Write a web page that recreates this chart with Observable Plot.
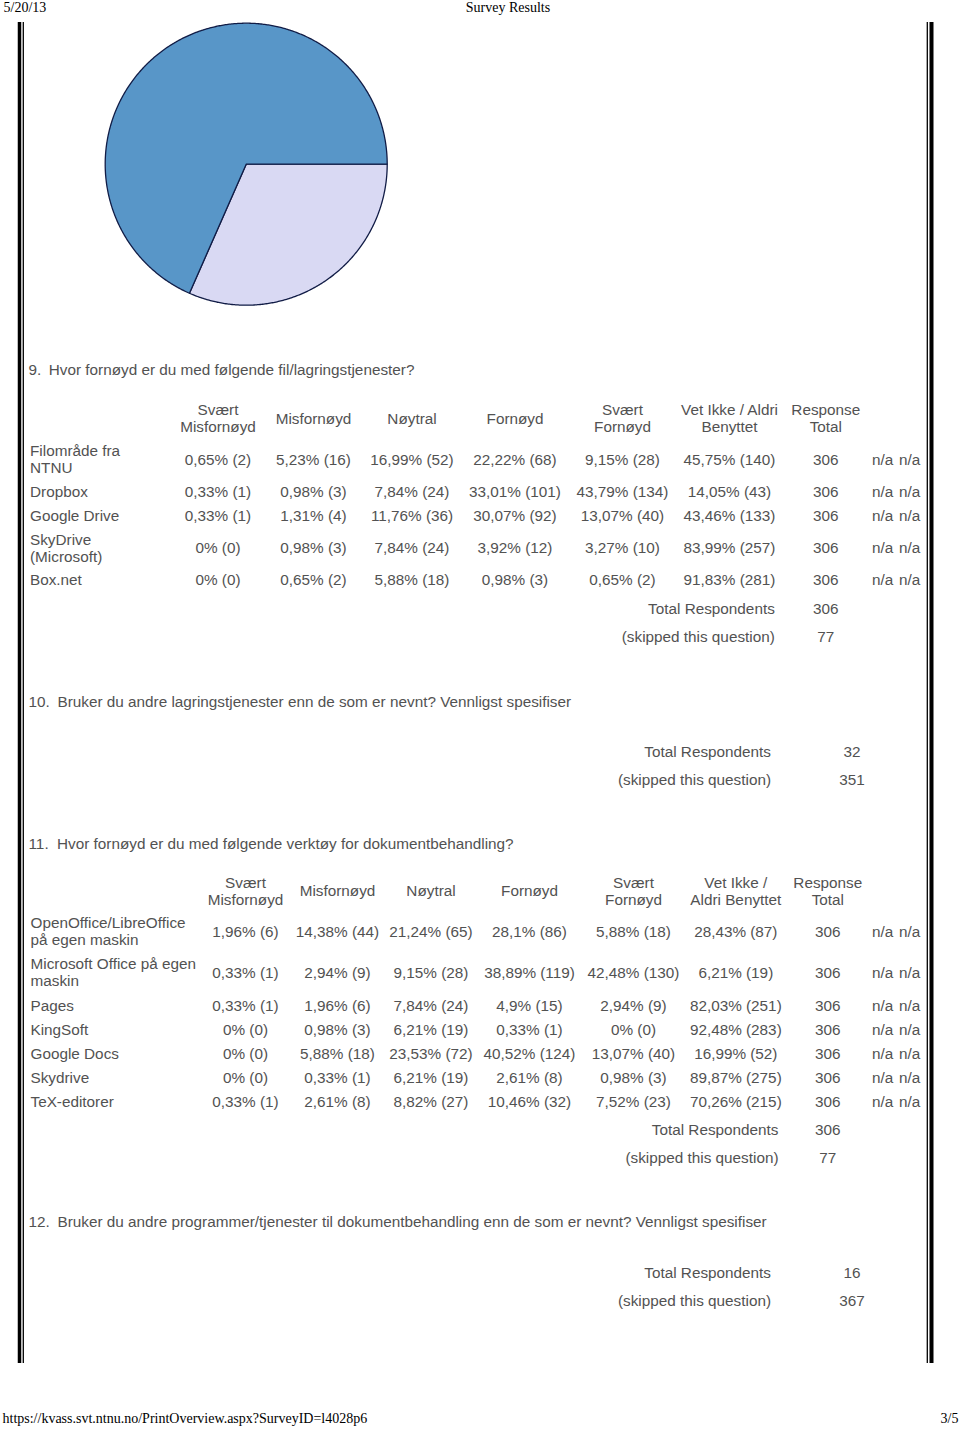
<!DOCTYPE html>
<html><head><meta charset="utf-8">
<script src="https://cdn.jsdelivr.net/npm/d3@7"></script>
<script src="https://cdn.jsdelivr.net/npm/@observablehq/plot@0.6"></script>
<style>html,body{margin:0;padding:0;background:#fff;}</style>
</head><body><div id="chart"></div>
<script>
// ---------------- DATA ----------------
const pageDate = "5/20/13";
const pageTitle = "Survey Results";
const pageUrl = "https://kvass.svt.ntnu.no/PrintOverview.aspx?SurveyID=l4028p6";
const pageNumber = "3/5";

// pie from previous question (light slice, dark slice)
const pieValues = [121, 262];

const q9Number = "9.";
const q9Question = "Hvor fornøyd er du med følgende fil/lagringstjenester?";
const q9Columns = ["Svært\nMisfornøyd", "Misfornøyd", "Nøytral", "Fornøyd", "Svært\nFornøyd", "Vet Ikke / Aldri\nBenyttet", "Response\nTotal"];
const q9Rows = ["Filområde fra\nNTNU", "Dropbox", "Google Drive", "SkyDrive\n(Microsoft)", "Box.net"];
const q9Pct = [
  [0.65, 5.23, 16.99, 22.22, 9.15, 45.75],
  [0.33, 0.98, 7.84, 33.01, 43.79, 14.05],
  [0.33, 1.31, 11.76, 30.07, 13.07, 43.46],
  [0, 0.98, 7.84, 3.92, 3.27, 83.99],
  [0, 0.65, 5.88, 0.98, 0.65, 91.83]
];
const q9Count = [
  [2, 16, 52, 68, 28, 140],
  [1, 3, 24, 101, 134, 43],
  [1, 4, 36, 92, 40, 133],
  [0, 3, 24, 12, 10, 257],
  [0, 2, 18, 3, 2, 281]
];
const q9Total = [306, 306, 306, 306, 306];
const q9Summary = [306, 77];

const q10Number = "10.";
const q10Question = "Bruker du andre lagringstjenester enn de som er nevnt? Vennligst spesifiser";
const q10Summary = [32, 351];

const q11Number = "11.";
const q11Question = "Hvor fornøyd er du med følgende verktøy for dokumentbehandling?";
const q11Columns = ["Svært\nMisfornøyd", "Misfornøyd", "Nøytral", "Fornøyd", "Svært\nFornøyd", "Vet Ikke /\nAldri Benyttet", "Response\nTotal"];
const q11Rows = ["OpenOffice/LibreOffice\npå egen maskin", "Microsoft Office på egen\nmaskin", "Pages", "KingSoft", "Google Docs", "Skydrive", "TeX-editorer"];
const q11Pct = [
  [1.96, 14.38, 21.24, 28.1, 5.88, 28.43],
  [0.33, 2.94, 9.15, 38.89, 42.48, 6.21],
  [0.33, 1.96, 7.84, 4.9, 2.94, 82.03],
  [0, 0.98, 6.21, 0.33, 0, 92.48],
  [0, 5.88, 23.53, 40.52, 13.07, 16.99],
  [0, 0.33, 6.21, 2.61, 0.98, 89.87],
  [0.33, 2.61, 8.82, 10.46, 7.52, 70.26]
];
const q11Count = [
  [6, 44, 65, 86, 18, 87],
  [1, 9, 28, 119, 130, 19],
  [1, 6, 24, 15, 9, 251],
  [0, 3, 19, 1, 0, 283],
  [0, 18, 72, 124, 40, 52],
  [0, 1, 19, 8, 3, 275],
  [1, 8, 27, 32, 23, 215]
];
const q11Total = [306, 306, 306, 306, 306, 306, 306];
const q11Summary = [306, 77];

const q12Number = "12.";
const q12Question = "Bruker du andre programmer/tjenester til dokumentbehandling enn de som er nevnt? Vennligst spesifiser";
const q12Summary = [16, 367];

const summaryLabels = ["Total Respondents", "(skipped this question)"];
const naText = "n/a";

// ---------------- LAYOUT / STYLE ----------------
const W = 960, H = 1430;
const SANS = "Liberation Sans, Arial, Helvetica, sans-serif";
const SERIF = "Liberation Serif, Times New Roman, serif";
const FS = 15.3, LH = 1.1, INK = "#525252";
const pieColors = ["#d9d9f3", "#5896c8"];
const pieStroke = "#111c46";
const pie = {cx: 245.7, cy: 163.7, r: 141};

const lay9 = {num: [28, 370], q: 48.3, labelX: 29.5, colX: [217.5, 313, 411.5, 514.5, 622, 729, 825.3], naX: [882, 909],
  headY: 418, rowY: [459, 491.5, 515.5, 547.5, 579.5], sumY: [608, 636.5], sumLabelX: 774.3, sumValX: 825.3};
const lay10 = {num: [28, 702], q: 57, sumY: [751, 779.5], sumLabelX: 770.5, sumValX: 851.5};
const lay11 = {num: [28, 844], q: 56.5, labelX: 30, colX: [245, 337, 430.5, 529, 633, 735.3, 827.3], naX: [882, 909],
  headY: 890.5, rowY: [931, 972, 1005, 1029, 1053, 1077, 1101], sumY: [1129, 1157], sumLabelX: 778, sumValX: 827.3};
const lay12 = {num: [28, 1222], q: 57, sumY: [1272, 1300], sumLabelX: 770.5, sumValX: 851.5};

// ---------------- BUILD ----------------
const fmt = (p, c) => String(p).replace(".", ",") + "% (" + c + ")";

function tableCells(lay, columns, rows, pct, count, total) {
  const heads = columns.map((t, j) => ({x: lay.colX[j], y: lay.headY, t}));
  const labels = rows.map((t, i) => ({x: lay.labelX, y: lay.rowY[i], t}));
  const cells = [];
  pct.forEach((row, i) => {
    row.forEach((p, j) => cells.push({x: lay.colX[j], y: lay.rowY[i], t: fmt(p, count[i][j])}));
    cells.push({x: lay.colX[6], y: lay.rowY[i], t: String(total[i])});
    lay.naX.forEach(x => cells.push({x, y: lay.rowY[i], t: naText}));
  });
  return {heads, labels, cells};
}

function summary(lay, vals) {
  return {
    labels: summaryLabels.map((t, i) => ({x: lay.sumLabelX, y: lay.sumY[i], t})),
    values: vals.map((v, i) => ({x: lay.sumValX, y: lay.sumY[i], t: String(v)}))
  };
}

function titleMarks(lay, num, q) {
  return [
    Plot.text([{x: lay.num[0], y: lay.num[1], t: num}], {x: "x", y: "y", text: "t", textAnchor: "start", fontSize: FS, fontFamily: SANS, fill: INK}),
    Plot.text([{x: lay.q, y: lay.num[1], t: q}], {x: "x", y: "y", text: "t", textAnchor: "start", fontSize: FS, fontFamily: SANS, fill: INK})
  ];
}

const txt = (data, anchor) => Plot.text(data, {x: "x", y: "y", text: "t", textAnchor: anchor, fontSize: FS, fontFamily: SANS, fill: INK, lineHeight: LH});

// pie slices from d3.pie
const arcs = d3.pie().sort(null).startAngle(Math.PI / 2).endAngle(Math.PI / 2 + 2 * Math.PI)(pieValues);
const slicePts = arcs.map((a, k) => {
  const pts = [{x: pie.cx, y: pie.cy, k}];
  const n = Math.max(2, Math.ceil((a.endAngle - a.startAngle) / (Math.PI / 360)));
  for (let s = 0; s <= n; s++) {
    const ang = a.startAngle + (a.endAngle - a.startAngle) * s / n;
    pts.push({x: pie.cx + pie.r * Math.sin(ang), y: pie.cy - pie.r * Math.cos(ang), k});
  }
  pts.push({x: pie.cx, y: pie.cy, k});
  return pts;
});

const t9 = tableCells(lay9, q9Columns, q9Rows, q9Pct, q9Count, q9Total);
const t11 = tableCells(lay11, q11Columns, q11Rows, q11Pct, q11Count, q11Total);
const s9 = summary(lay9, q9Summary), s10 = summary(lay10, q10Summary), s11 = summary(lay11, q11Summary), s12 = summary(lay12, q12Summary);

const chart = Plot.plot({
  width: W, height: H, margin: 0,
  style: {background: "white", overflow: "visible"},
  x: {domain: [0, W], range: [0, W], axis: null},
  y: {domain: [0, H], range: [0, H], axis: null},
  marks: [
    // page header/footer
    Plot.text([{x: 3, y: 7, t: pageDate}], {x: "x", y: "y", text: "t", textAnchor: "start", fontSize: 14, fontFamily: SERIF, fill: "#000"}),
    Plot.text([{x: 507.5, y: 7, t: pageTitle}], {x: "x", y: "y", text: "t", textAnchor: "middle", fontSize: 14, fontFamily: SERIF, fill: "#000"}),
    Plot.text([{x: 2, y: 1418, t: pageUrl}], {x: "x", y: "y", text: "t", textAnchor: "start", fontSize: 14, fontFamily: SERIF, fill: "#000"}),
    Plot.text([{x: 958, y: 1418, t: pageNumber}], {x: "x", y: "y", text: "t", textAnchor: "end", fontSize: 14, fontFamily: SERIF, fill: "#000"}),
    // frame
    Plot.ruleX([19], {y1: 22, y2: 1363, stroke: "#000", strokeWidth: 3.5}),
    Plot.ruleX([22.8], {y1: 22, y2: 1363, stroke: "#000", strokeWidth: 1.3}),
    Plot.ruleX([926.8], {y1: 22, y2: 1363, stroke: "#000", strokeWidth: 1.3}),
    Plot.ruleX([931], {y1: 22, y2: 1363, stroke: "#000", strokeWidth: 4}),
    // pie
    ...slicePts.map((pts, k) => Plot.line(pts, {x: "x", y: "y", fill: pieColors[k], stroke: pieStroke, strokeWidth: 1.3, curve: "linear"})),
    // Q9
    ...titleMarks(lay9, q9Number, q9Question),
    txt(t9.heads, "middle"), txt(t9.labels, "start"), txt(t9.cells, "middle"),
    txt(s9.labels, "end"), txt(s9.values, "middle"),
    // Q10
    ...titleMarks(lay10, q10Number, q10Question),
    txt(s10.labels, "end"), txt(s10.values, "middle"),
    // Q11
    ...titleMarks(lay11, q11Number, q11Question),
    txt(t11.heads, "middle"), txt(t11.labels, "start"), txt(t11.cells, "middle"),
    txt(s11.labels, "end"), txt(s11.values, "middle"),
    // Q12
    ...titleMarks(lay12, q12Number, q12Question),
    txt(s12.labels, "end"), txt(s12.values, "middle")
  ]
});
document.getElementById("chart").appendChild(chart);
</script></body></html>
